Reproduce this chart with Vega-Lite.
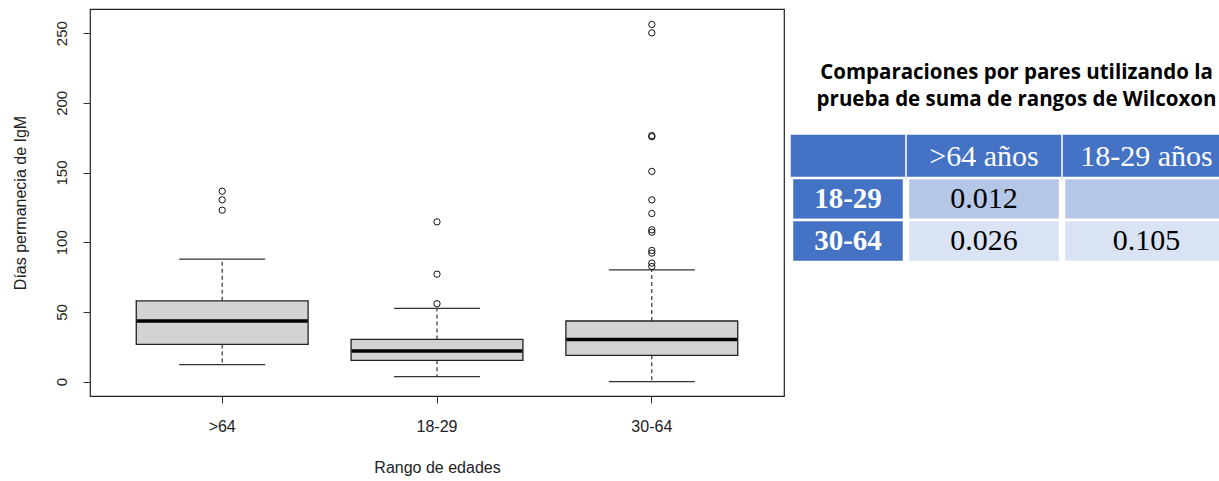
{
  "$schema": "https://vega.github.io/schema/vega-lite/v6.json",
  "padding": {"left": 11, "top": 8, "right": 0, "bottom": 0},
  "background": "white",
  "config": {"view": {"stroke": null}, "font": "Liberation Sans"},
  "datasets": {
    "stats": [
      {"group": ">64", "lower": 12.2, "q1": 26.7, "median": 43.5, "q3": 58.0, "upper": 87.9},
      {"group": "18-29", "lower": 3.6, "q1": 15.3, "median": 22.0, "q3": 30.3, "upper": 52.5},
      {"group": "30-64", "lower": 0, "q1": 18.9, "median": 30.3, "q3": 43.5, "upper": 80.2}
    ],
    "outliers": [
      {"group": ">64", "value": 136.6},
      {"group": ">64", "value": 130.4},
      {"group": ">64", "value": 123.0},
      {"group": "18-29", "value": 114.6},
      {"group": "18-29", "value": 77.1},
      {"group": "18-29", "value": 55.9},
      {"group": "30-64", "value": 256.2},
      {"group": "30-64", "value": 250.2},
      {"group": "30-64", "value": 176.5},
      {"group": "30-64", "value": 175.7},
      {"group": "30-64", "value": 150.8},
      {"group": "30-64", "value": 130.4},
      {"group": "30-64", "value": 120.6},
      {"group": "30-64", "value": 108.9},
      {"group": "30-64", "value": 107.2},
      {"group": "30-64", "value": 94.1},
      {"group": "30-64", "value": 92.2},
      {"group": "30-64", "value": 85.0},
      {"group": "30-64", "value": 82.6}
    ],
    "table": [
      {"col": "c0", "row": "h", "label": "", "kind": "header"},
      {"col": "c0", "row": "18-29", "label": "18-29", "kind": "rowhead"},
      {"col": "c0", "row": "30-64", "label": "30-64", "kind": "rowhead"},
      {"col": "c1", "row": "h", "label": ">64 años", "kind": "header"},
      {"col": "c1", "row": "18-29", "label": "0.012", "kind": "dark"},
      {"col": "c1", "row": "30-64", "label": "0.026", "kind": "light"},
      {"col": "c2", "row": "h", "label": "18-29 años", "kind": "header"},
      {"col": "c2", "row": "18-29", "label": "", "kind": "dark"},
      {"col": "c2", "row": "30-64", "label": "0.105", "kind": "light"}
    ]
  },
  "spacing": 5,
  "hconcat": [
    {
      "width": 694,
      "height": 387,
      "view": {"stroke": "#222", "strokeWidth": 1.2},
      "layer": [
        {
          "data": {"name": "stats"},
          "mark": {"type": "rule", "strokeDash": [4, 3], "color": "#222", "strokeWidth": 1.1},
          "encoding": {
            "x": {
              "field": "group", "type": "nominal", "sort": [">64", "18-29", "30-64"],
              "scale": {"domain": [">64", "18-29", "30-64"], "paddingInner": 0.2, "paddingOuter": 0.2154},
              "title": "Rango de edades",
              "axis": {
                "domain": false, "grid": false, "tickSize": 7, "tickColor": "#333", "bandPosition": 0.5,
                "labelAngle": 0, "labelFontSize": 16, "labelColor": "#222", "labelPadding": 15,
                "labelFont": "Liberation Sans", "titleFont": "Liberation Sans",
                "titleFontSize": 16, "titleFontWeight": "normal", "titleColor": "#222", "titlePadding": 25
              }
            },
            "y": {
              "field": "q3", "type": "quantitative",
              "scale": {"domain": [-10.3, 267.3], "nice": false, "zero": false},
              "title": "Días permanecia de IgM",
              "axis": {
                "values": [0, 50, 100, 150, 200, 250], "domain": false, "grid": false,
                "tickSize": 7, "tickColor": "#333", "labelAngle": -90, "labelAlign": "center",
                "labelBaseline": "alphabetic", "labelFontSize": 15, "labelColor": "#222", "labelPadding": 17,
                "labelFont": "Liberation Sans", "titleFont": "Liberation Sans",
                "titleFontSize": 16, "titleFontWeight": "normal", "titleColor": "#222", "titlePadding": 26
              }
            },
            "y2": {"field": "upper"}
          }
        },
        {
          "data": {"name": "stats"},
          "mark": {"type": "rule", "strokeDash": [4, 3], "color": "#222", "strokeWidth": 1.1},
          "encoding": {
            "x": {"field": "group", "type": "nominal"},
            "y": {"field": "q1", "type": "quantitative"},
            "y2": {"field": "lower"}
          }
        },
        {
          "data": {"name": "stats"},
          "mark": {"type": "tick", "size": 86, "thickness": 1.3, "color": "#333", "opacity": 1},
          "encoding": {
            "x": {"field": "group", "type": "nominal"},
            "y": {"field": "upper", "type": "quantitative"}
          }
        },
        {
          "data": {"name": "stats"},
          "mark": {"type": "tick", "size": 86, "thickness": 1.3, "color": "#333", "opacity": 1},
          "encoding": {
            "x": {"field": "group", "type": "nominal"},
            "y": {"field": "lower", "type": "quantitative"}
          }
        },
        {
          "data": {"name": "stats"},
          "mark": {"type": "bar", "fill": "#D3D3D3", "stroke": "#222", "strokeWidth": 1.3, "opacity": 1},
          "encoding": {
            "x": {"field": "group", "type": "nominal"},
            "y": {"field": "q1", "type": "quantitative"},
            "y2": {"field": "q3"}
          }
        },
        {
          "data": {"name": "stats"},
          "mark": {"type": "tick", "size": 171, "thickness": 3.5, "color": "#000", "opacity": 1},
          "encoding": {
            "x": {"field": "group", "type": "nominal"},
            "y": {"field": "median", "type": "quantitative"}
          }
        },
        {
          "data": {"name": "outliers"},
          "mark": {"type": "point", "shape": "circle", "filled": false, "size": 40, "color": "#111", "strokeWidth": 1, "opacity": 1},
          "encoding": {
            "x": {"field": "group", "type": "nominal"},
            "y": {"field": "value", "type": "quantitative"}
          }
        }
      ]
    },
    {
      "spacing": 10,
      "vconcat": [
        {
          "width": 429,
          "height": 115,
          "data": {"values": [{}]},
          "mark": {
            "type": "text",
            "text": ["Comparaciones por pares utilizando la", "prueba de suma de rangos de Wilcoxon"],
            "font": "Open Sans", "fontSize": 20.5, "fontWeight": "bold", "color": "#000",
            "lineHeight": 27, "align": "center", "baseline": "middle", "dx": 10, "dy": 6
          },
          "encoding": {}
        },
        {
          "spacing": 0,
          "hconcat": [
            {
              "width": 112,
              "height": 126,
              "data": {"name": "table"},
              "transform": [{"filter": "datum.col == 'c0'"}],
              "encoding": {
                "y": {"field": "row", "type": "nominal", "scale": {"domain": ["h", "18-29", "30-64"], "paddingInner": 0, "paddingOuter": 0}, "axis": null}
              },
              "layer": [
                {
                  "mark": {"type": "rect", "strokeWidth": 2.5},
                  "encoding": {
                    "fill": {"field": "kind", "type": "nominal", "scale": {"domain": ["header", "rowhead", "dark", "light"], "range": ["#4472C4", "#4472C4", "#B4C7E7", "#DAE3F3"]}, "legend": null},
                    "stroke": {"condition": {"test": "datum.kind == 'header'", "value": "#4472C4"}, "value": "white"}
                  }
                },
                {
                  "mark": {"type": "text", "font": "Liberation Serif", "fontSize": 29, "fontWeight": "bold", "align": "center", "baseline": "middle"},
                  "encoding": {
                    "text": {"field": "label", "type": "nominal"},
                    "color": {"condition": {"test": "datum.kind == 'header' || datum.kind == 'rowhead'", "value": "white"}, "value": "black"}
                  }
                }
              ]
            },
            {
              "width": 152,
              "height": 126,
              "data": {"name": "table"},
              "transform": [{"filter": "datum.col == 'c1'"}],
              "encoding": {
                "y": {"field": "row", "type": "nominal", "scale": {"domain": ["h", "18-29", "30-64"], "paddingInner": 0, "paddingOuter": 0}, "axis": null}
              },
              "layer": [
                {
                  "mark": {"type": "rect", "strokeWidth": 2.5},
                  "encoding": {
                    "fill": {"field": "kind", "type": "nominal", "scale": {"domain": ["header", "rowhead", "dark", "light"], "range": ["#4472C4", "#4472C4", "#B4C7E7", "#DAE3F3"]}, "legend": null},
                    "stroke": {"condition": {"test": "datum.kind == 'header'", "value": "#4472C4"}, "value": "white"}
                  }
                },
                {
                  "mark": {"type": "text", "font": "Liberation Serif", "fontSize": 30, "align": "center", "baseline": "middle"},
                  "encoding": {
                    "text": {"field": "label", "type": "nominal"},
                    "color": {"condition": {"test": "datum.kind == 'header' || datum.kind == 'rowhead'", "value": "white"}, "value": "black"}
                  }
                }
              ]
            },
            {
              "width": 165,
              "height": 126,
              "data": {"name": "table"},
              "transform": [{"filter": "datum.col == 'c2'"}],
              "encoding": {
                "y": {"field": "row", "type": "nominal", "scale": {"domain": ["h", "18-29", "30-64"], "paddingInner": 0, "paddingOuter": 0}, "axis": null}
              },
              "layer": [
                {
                  "mark": {"type": "rect", "strokeWidth": 2.5},
                  "encoding": {
                    "fill": {"field": "kind", "type": "nominal", "scale": {"domain": ["header", "rowhead", "dark", "light"], "range": ["#4472C4", "#4472C4", "#B4C7E7", "#DAE3F3"]}, "legend": null},
                    "stroke": {"condition": {"test": "datum.kind == 'header'", "value": "#4472C4"}, "value": "white"}
                  }
                },
                {
                  "mark": {"type": "text", "font": "Liberation Serif", "fontSize": 30, "align": "center", "baseline": "middle"},
                  "encoding": {
                    "text": {"field": "label", "type": "nominal"},
                    "color": {"condition": {"test": "datum.kind == 'header' || datum.kind == 'rowhead'", "value": "white"}, "value": "black"}
                  }
                }
              ]
            }
          ]
        }
      ]
    }
  ]
}
